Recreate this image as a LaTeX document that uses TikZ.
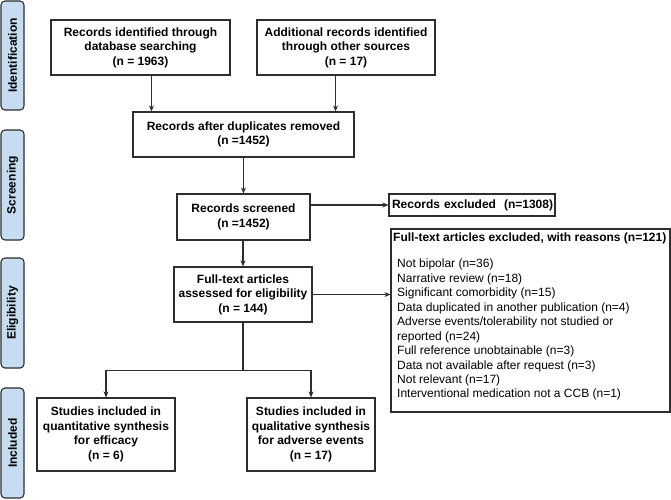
\documentclass[tikz,border=0pt]{standalone}
\usepackage{fontspec}
\setmainfont{Liberation Sans}
\usetikzlibrary{arrows.meta,calc}
\definecolor{barfill}{HTML}{C6DCF1}
\definecolor{linec}{HTML}{2E2E2E}
\tikzset{
  box/.style={draw=linec, line width=1.1pt, rectangle, align=center, inner sep=1pt,
    font=\bfseries\fontsize{12}{14.5}\selectfont, text=black},
  bar/.style={draw=linec, line width=1.1pt, fill=barfill, rounded corners=4pt, rotate=90,
    minimum height=23pt, inner sep=0pt, font=\bfseries\fontsize{12}{14}\selectfont},
  arr/.style={draw=linec, line width=1.1pt, -{Stealth[length=6pt,width=5pt]}},
  ln/.style={draw=linec, line width=1.1pt}
}
\begin{document}
\begin{tikzpicture}[x=1pt,y=-1pt]
\useasboundingbox (0,0) rectangle (671,499);
\fill[white] (0,0) rectangle (671,499);
% side bars
\node[bar, minimum width=109pt] (sid) at (12.5,55.5) {Identification};
\node[bar, minimum width=110pt] (sscr) at (12.5,185) {Screening};
\node[bar, minimum width=110pt] (selig) at (12.5,313) {Eligibility};
\node[bar, minimum width=110pt] (sinc) at (12.5,443) {Included};
% boxes
\node[box, minimum width=179pt, minimum height=55pt] (db) at (140.5,47.5) {Records identified through\\database searching\\(n = 1963)};
\node[box, minimum width=178pt, minimum height=55pt] (other) at (346,47.5) {Additional records identified\\through other sources\\(n = 17)};
\node[box, minimum width=221pt, minimum height=45pt] (dup) at (243.5,134.5) {Records after duplicates removed\\(n =1452)};
\node[box, minimum width=133pt, minimum height=46pt] (scr) at (243.5,217) {Records screened\\(n =1452)};
\node[box, minimum width=166pt, minimum height=22pt, text width=164pt, align=left, inner sep=1pt] (exc1) at (472,205) {\hspace{2pt}Records excluded\ \ (n=1308)};
\node[box, minimum width=138pt, minimum height=55pt] (ass) at (243,294.5) {Full-text articles\\assessed for eligibility\\(n = 144)};
\node[box, minimum width=279pt, minimum height=183pt] (exc2) at (530.5,320.5) {};
\node[anchor=west, inner sep=0pt, font=\bfseries\fontsize{12}{14.5}\selectfont] (exc2t) at (393,238) {Full-text articles excluded, with reasons (n=121)};
\node[anchor=north west, inner sep=0pt, align=left, font=\fontsize{12}{14.45}\selectfont] (exc2l) at (397,259) {Not bipolar (n=36)\\Narrative review (n=18)\\Significant comorbidity (n=15)\\Data duplicated in another publication (n=4)\\Adverse events/tolerability not studied or\\reported (n=24)\\Full reference unobtainable (n=3)\\Data not available after request (n=3)\\Not relevant (n=17)\\Interventional medication not a CCB (n=1)};
\node[box, minimum width=138pt, minimum height=73pt] (inc1) at (106,434.5) {Studies included in\\quantitative synthesis\\for efficacy\\(n = 6)};
\node[box, minimum width=128pt, minimum height=73pt] (inc2) at (311,434.5) {Studies included in\\qualitative synthesis\\for adverse events\\(n = 17)};
% connectors
\coordinate (a1) at ([xshift=19pt]dup.north west);
\coordinate (a2) at ([xshift=-19pt]dup.north east);
\draw[arr] (db.south -| a1) -- (a1);
\draw[arr] (other.south -| a2) -- (a2);
\draw[arr] (dup.south -| scr.north) -- (scr.north);
\draw[arr] (scr.south -| ass.north) -- (ass.north);
\draw[arr] (exc1.west -| scr.east) -- (exc1.west);
\draw[arr] (ass.east) -- (ass.east -| exc2.west);
\coordinate (sp) at ($(ass.south)+(0,47.5)$);
\draw[ln] (ass.south) -- (sp);
\draw[arr] (sp) -| (inc1.north);
\draw[arr] (sp) -| (inc2.north);
\end{tikzpicture}
\end{document}
